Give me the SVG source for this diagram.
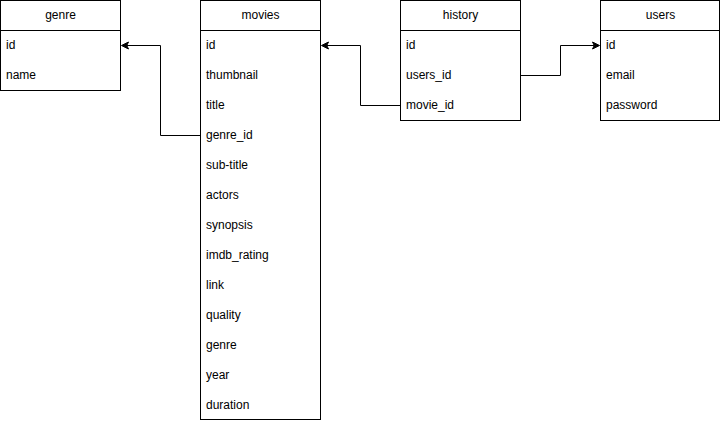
<svg xmlns="http://www.w3.org/2000/svg" width="721" height="421" viewBox="0 0 721 421">
  <style>
    .box { fill: #ffffff; stroke: #000000; stroke-width: 1; }
    .sep { stroke: #000000; stroke-width: 1; }
    .title { font-family: "Liberation Sans", Arial, sans-serif; font-size: 12px; fill: #000000; text-anchor: middle; dominant-baseline: central; }
    .field { font-family: "Liberation Sans", Arial, sans-serif; font-size: 12px; fill: #000000; dominant-baseline: central; }
    .edge { fill: none; stroke: #000000; stroke-width: 1; }
    .head { fill: #000000; stroke: #000000; stroke-width: 1; }
  </style>

  <!-- genre table -->
  <g id="genre">
    <rect class="box" x="0.5" y="0.5" width="120" height="90"/>
    <line class="sep" x1="0.5" y1="30.5" x2="120.5" y2="30.5"/>
    <text class="title" x="60.5" y="14.5">genre</text>
    <text class="field" x="6" y="44.5">id</text>
    <text class="field" x="6" y="74.5">name</text>
  </g>

  <!-- movies table -->
  <g id="movies">
    <rect class="box" x="200.5" y="0.5" width="120" height="419"/>
    <line class="sep" x1="200.5" y1="30.5" x2="320.5" y2="30.5"/>
    <text class="title" x="260.5" y="14.5">movies</text>
    <text class="field" x="206" y="44.5">id</text>
    <text class="field" x="206" y="74.5">thumbnail</text>
    <text class="field" x="206" y="104.5">title</text>
    <text class="field" x="206" y="134.5">genre_id</text>
    <text class="field" x="206" y="164.5">sub-title</text>
    <text class="field" x="206" y="194.5">actors</text>
    <text class="field" x="206" y="224.5">synopsis</text>
    <text class="field" x="206" y="254.5">imdb_rating</text>
    <text class="field" x="206" y="284.5">link</text>
    <text class="field" x="206" y="314.5">quality</text>
    <text class="field" x="206" y="344.5">genre</text>
    <text class="field" x="206" y="374.5">year</text>
    <text class="field" x="206" y="404.5">duration</text>
  </g>

  <!-- history table -->
  <g id="history">
    <rect class="box" x="400.5" y="0.5" width="120" height="120"/>
    <line class="sep" x1="400.5" y1="30.5" x2="520.5" y2="30.5"/>
    <text class="title" x="460.5" y="14.5">history</text>
    <text class="field" x="406" y="44.5">id</text>
    <text class="field" x="406" y="74.5">users_id</text>
    <text class="field" x="406" y="104.5">movie_id</text>
  </g>

  <!-- users table -->
  <g id="users">
    <rect class="box" x="600.5" y="0.5" width="119" height="120"/>
    <line class="sep" x1="600.5" y1="30.5" x2="719.5" y2="30.5"/>
    <text class="title" x="660.5" y="14.5">users</text>
    <text class="field" x="606" y="44.5">id</text>
    <text class="field" x="606" y="74.5">email</text>
    <text class="field" x="606" y="104.5">password</text>
  </g>

  <!-- foreign key connectors -->
  <g id="connectors">
    <!-- movies.genre_id -> genre.id -->
    <polyline class="edge" points="200.5,135.5 160.5,135.5 160.5,45.5 127,45.5"/>
    <path class="head" d="M121.5,45.5 L128.5,42 L126.75,45.5 L128.5,49 Z"/>
    <!-- history.movie_id -> movies.id -->
    <polyline class="edge" points="400.5,105.5 360.5,105.5 360.5,45.5 327,45.5"/>
    <path class="head" d="M321.5,45.5 L328.5,42 L326.75,45.5 L328.5,49 Z"/>
    <!-- history.users_id -> users.id -->
    <polyline class="edge" points="520.5,75.5 560.5,75.5 560.5,45.5 594,45.5"/>
    <path class="head" d="M599.5,45.5 L592.5,42 L594.25,45.5 L592.5,49 Z"/>
  </g>
</svg>
